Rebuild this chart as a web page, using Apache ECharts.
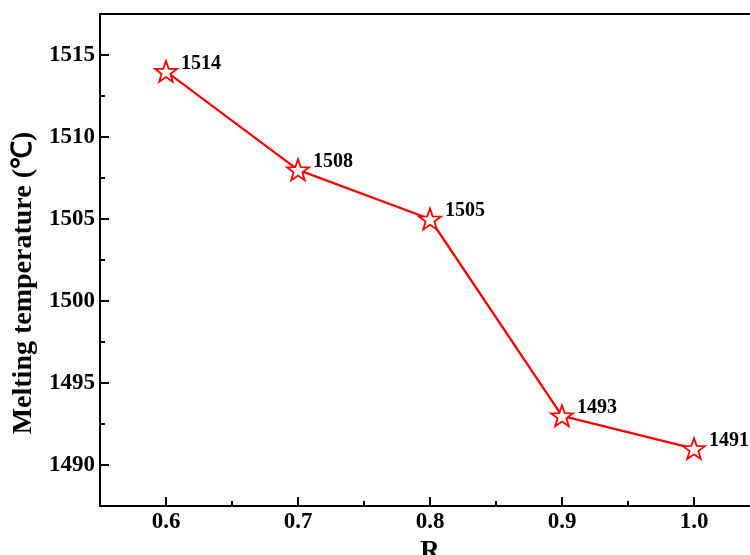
<!DOCTYPE html>
<html><head><meta charset="utf-8">
<script src="https://cdn.jsdelivr.net/npm/echarts@6/dist/echarts.min.js"></script>
<style>html,body{margin:0;padding:0;background:#fff}#c{width:750px;height:555px}</style>
</head><body><div id="c"></div>
<script>
const rValues = [0.6, 0.7, 0.8, 0.9, 1.0];
const meltTemps = [1514, 1508, 1505, 1493, 1491];
const xMajorTicks = [0.6, 0.7, 0.8, 0.9, 1.0];
const xMinorTicks = [0.65, 0.75, 0.85, 0.95, 1.05];
const yMajorTicks = [1490, 1495, 1500, 1505, 1510, 1515];
const yMinorTicks = [1487.5, 1492.5, 1497.5, 1502.5, 1507.5, 1512.5, 1517.5];
const xRange = [0.55, 1.05];
const yRange = [1487.5, 1517.5];

const FONT = "'Liberation Serif','Times New Roman',serif";
const star = 'path://M10 0 L12.351 6.764 L19.511 6.910 L13.804 11.236 L15.878 18.090 L10 14 L4.122 18.090 L6.196 11.236 L0.489 6.910 L7.649 6.764 Z';

const chart = echarts.init(document.getElementById('c'), null, {renderer: 'canvas'});
chart.setOption({
  animation: false,
  grid: {left: 100, width: 660, top: 14, height: 492, show: true, borderColor: '#000', borderWidth: 2, containLabel: false, outerBoundsMode: 'none'},
  xAxis: [{
    type: 'value', min: xRange[0], max: xRange[1], position: 'bottom',
    name: 'R', nameLocation: 'middle', nameGap: 32,
    nameTextStyle: {fontFamily: FONT, fontWeight: 'bold', fontSize: 27, color: '#000'},
    axisLine: {show: true, lineStyle: {color: '#000', width: 2}},
    axisTick: {show: true, inside: true, length: 9, lineStyle: {color: '#000', width: 2}, customValues: xMajorTicks},
    axisLabel: {show: true, margin: 5, fontFamily: FONT, fontWeight: 'bold', fontSize: 23, color: '#000', customValues: xMajorTicks, formatter: v => v.toFixed(1)},
    splitLine: {show: false}
  }, {
    type: 'value', min: xRange[0], max: xRange[1], position: 'bottom',
    axisLine: {show: false},
    axisTick: {show: true, inside: true, length: 5, lineStyle: {color: '#000', width: 2}, customValues: xMinorTicks},
    axisLabel: {show: false}, splitLine: {show: false}
  }],
  yAxis: [{
    type: 'value', min: yRange[0], max: yRange[1], position: 'left',
    name: 'Melting temperature (℃)', nameLocation: 'middle', nameGap: 51,
    nameTextStyle: {fontFamily: FONT, fontWeight: 'bold', fontSize: 28, color: '#000', padding: [0, 46, 0, 0]},
    axisLine: {show: true, lineStyle: {color: '#000', width: 2}},
    axisTick: {show: true, inside: true, length: 9, lineStyle: {color: '#000', width: 2}, customValues: yMajorTicks},
    axisLabel: {show: true, margin: 5, fontFamily: FONT, fontWeight: 'bold', fontSize: 23, color: '#000', customValues: yMajorTicks, formatter: v => String(v)},
    splitLine: {show: false}
  }, {
    type: 'value', min: yRange[0], max: yRange[1], position: 'left',
    axisLine: {show: false},
    axisTick: {show: true, inside: true, length: 5, lineStyle: {color: '#000', width: 2}, customValues: yMinorTicks},
    axisLabel: {show: false}, splitLine: {show: false}
  }],
  series: [{
    type: 'line',
    data: rValues.map((r, i) => [r, meltTemps[i]]),
    symbol: star, symbolSize: 22, symbolKeepAspect: true,
    lineStyle: {color: '#ff0000', width: 2.3},
    itemStyle: {color: '#fff', borderColor: '#ff0000', borderWidth: 1.8},
    label: {show: true, position: 'right', distance: 3, offset: [0, -8], fontFamily: FONT, fontWeight: 'bold', fontSize: 20, color: '#000'}
  }]
});
</script></body></html>
